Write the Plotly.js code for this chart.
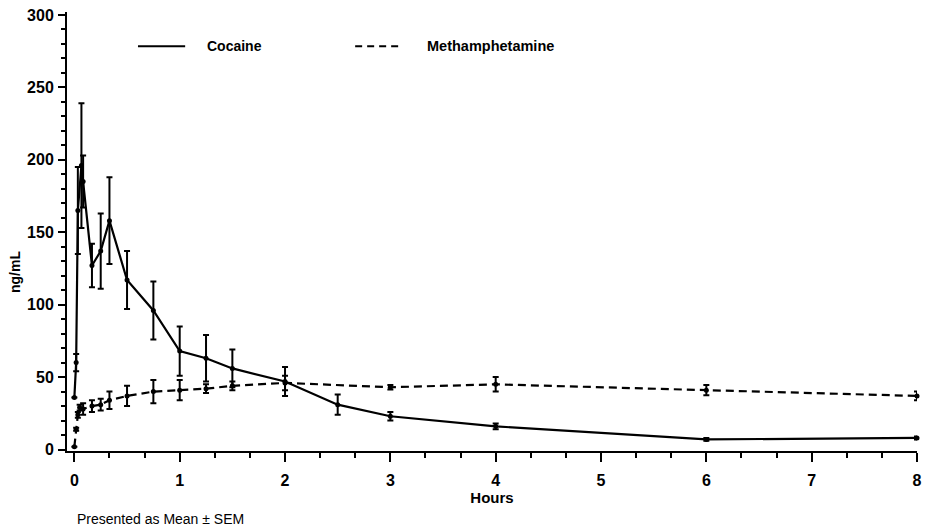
<!DOCTYPE html>
<html>
<head>
<meta charset="utf-8">
<script src="https://cdn.plot.ly/plotly-3.0.1.min.js"></script>
<style>html,body{margin:0;padding:0;background:#fff;}#chart{width:926px;height:530px;}</style>
</head>
<body>
<div id="chart"></div>
<script>
// Cocaine (mean ± SEM, ng/mL)
var cocaineHours = [0, 0.017, 0.033, 0.067, 0.083, 0.167, 0.25, 0.333, 0.5, 0.75, 1, 1.25, 1.5, 2, 2.5, 3, 4, 6, 8];
var cocaineMean  = [36, 60, 165, 196, 185, 127, 137, 158, 117, 96, 68, 63, 56, 47, 31, 23, 16, 7, 8];
var cocaineSEM   = [0, 6, 30, 43, 18, 15, 26, 30, 20, 20, 17, 16, 13, 10, 7, 3, 2, 1, 1];

// Methamphetamine (mean ± SEM, ng/mL)
var methHours = [0, 0.017, 0.033, 0.05, 0.083, 0.167, 0.25, 0.333, 0.5, 0.75, 1, 1.25, 1.5, 2, 3, 4, 6, 8];
var methMean  = [2, 14, 24, 29, 28, 30, 31, 34, 37, 40, 41, 42, 44, 46, 43, 45, 41, 37];
var methSEM   = [0, 1, 2, 2, 4, 4, 4, 6, 7, 8, 7, 3, 3, 5, 1.5, 5, 3.5, 3];

var seriesNames = ["Cocaine", "Methamphetamine"];
var xTickVals = [0, 1, 2, 3, 4, 5, 6, 7, 8];
var yTickVals = [0, 50, 100, 150, 200, 250, 300];

var fontFam = '"Liberation Sans", Arial, Helvetica, sans-serif';

var traces = [
  {
    x: cocaineHours, y: cocaineMean, name: seriesNames[0],
    type: 'scatter', mode: 'lines+markers', cliponaxis: false,
    line: {color: '#000', width: 2.2},
    marker: {color: '#000', size: 5},
    error_y: {type: 'data', array: cocaineSEM, visible: true, color: '#000', thickness: 2, width: 3},
    showlegend: false
  },
  {
    x: methHours, y: methMean, name: seriesNames[1],
    type: 'scatter', mode: 'lines+markers', cliponaxis: false,
    line: {color: '#000', width: 2.2, dash: '8px,5px'},
    marker: {color: '#000', size: 5},
    error_y: {type: 'data', array: methSEM, visible: true, color: '#000', thickness: 2, width: 3},
    showlegend: false
  }
];

var layout = {
  width: 926, height: 530,
  margin: {l: 67, r: 9, t: 12, b: 79},
  paper_bgcolor: '#fff', plot_bgcolor: '#fff',
  font: {family: fontFam, color: '#000'},
  showlegend: false,
  xaxis: {
    range: [-0.07, 8.0],
    tickvals: xTickVals,
    ticks: 'outside', ticklen: 9, tickwidth: 2, tickcolor: '#000',
    ticklabelstandoff: 5,
    minor: {dtick: 1/3, ticks: 'outside', ticklen: 5, tickwidth: 2, tickcolor: '#000', showgrid: false},
    showline: true, linecolor: '#000', linewidth: 2,
    showgrid: false, zeroline: false,
    tickfont: {family: fontFam, size: 16, weight: 'bold'},
    title: {text: 'Hours', font: {family: fontFam, size: 15, weight: 'bold'}, standoff: 4}
  },
  yaxis: {
    range: [-1, 302],
    tickvals: yTickVals,
    ticks: 'outside', ticklen: 7, tickwidth: 2, tickcolor: '#000',
    ticklabelstandoff: 1,
    minor: {dtick: 10, ticks: 'outside', ticklen: 4, tickwidth: 2, tickcolor: '#000', showgrid: false},
    showline: true, linecolor: '#000', linewidth: 2,
    showgrid: false, zeroline: false,
    tickfont: {family: fontFam, size: 16, weight: 'bold'}
  },
  shapes: [
    {type: 'line', xref: 'paper', yref: 'paper', x0: 0.0835, x1: 0.139, y0: 0.922, y1: 0.922, line: {color: '#000', width: 2}},
    {type: 'line', xref: 'paper', yref: 'paper', x0: 0.339, x1: 0.392, y0: 0.922, y1: 0.922, line: {color: '#000', width: 2, dash: '7px,5px'}}
  ],
  annotations: [
    {xref: 'paper', yref: 'paper', x: 0.1624, y: 0.922, xanchor: 'left', yanchor: 'middle', showarrow: false,
     text: seriesNames[0], font: {family: fontFam, size: 14, weight: 'bold'}},
    {xref: 'paper', yref: 'paper', x: 0.421, y: 0.922, xanchor: 'left', yanchor: 'middle', showarrow: false,
     text: seriesNames[1], font: {family: fontFam, size: 14.5, weight: 'bold'}},
    {xref: 'paper', yref: 'paper', x: -0.061, y: 0.408, xanchor: 'center', yanchor: 'middle', showarrow: false,
     textangle: -90, text: 'ng/mL', font: {family: fontFam, size: 14, weight: 'bold'}},
    {xref: 'paper', yref: 'paper', x: 0.009, y: -0.155, xanchor: 'left', yanchor: 'middle', showarrow: false,
     text: 'Presented as Mean ± SEM', font: {family: fontFam, size: 14}}
  ]
};

Plotly.newPlot('chart', traces, layout, {displayModeBar: false, staticPlot: true});
</script>
</body>
</html>
